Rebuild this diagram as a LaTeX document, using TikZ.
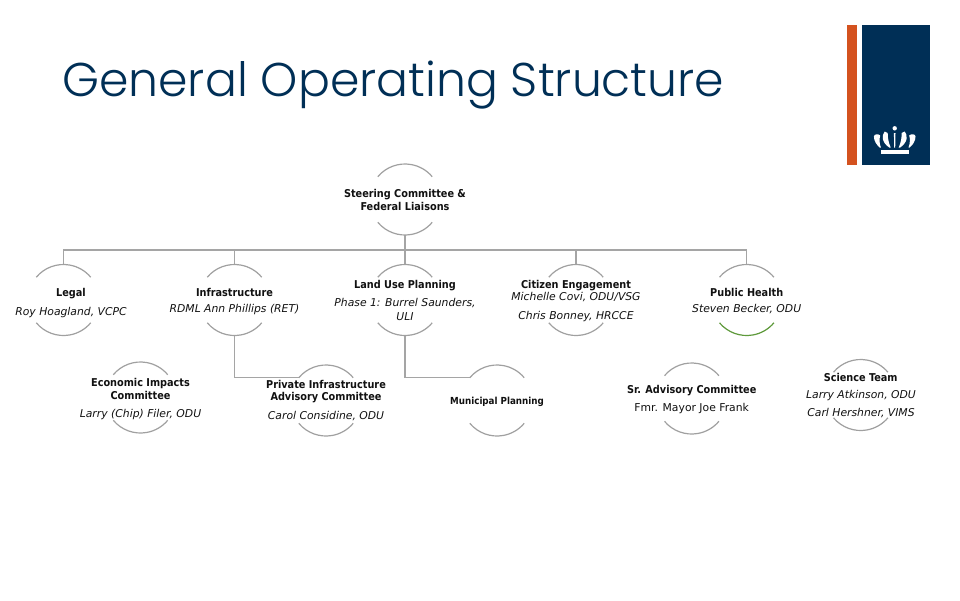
\documentclass[tikz,border=0pt]{standalone}
\usepackage{fontspec}
\setmainfont{DejaVu Sans}
\newfontfamily\hdfont{DejaVu Sans Condensed}
\newfontfamily\titlefont{Poppins}[UprightFont=* Light]
\definecolor{navy}{HTML}{002F56}
\definecolor{rust}{HTML}{D4521F}
\definecolor{arcgray}{HTML}{A0A0A0}
\definecolor{linegray}{HTML}{A5A5A5}
\definecolor{leaf}{HTML}{5F9A3C}
\definecolor{ink}{HTML}{111111}
\tikzset{
  x=1pt,y=-1pt,
  hub/.style={circle,minimum size=71pt,inner sep=0pt,outer sep=0pt},
  arcline/.style={draw=arcgray,line width=1.2pt},
  conn/.style={draw=linegray,line width=1.2pt},
  lab/.style={align=center,font=\fontsize{10.8pt}{12.2pt}\selectfont,text=ink,inner sep=0pt},
}
\newcommand{\hd}[1]{{\hdfont\bfseries #1}}
\newcommand{\nm}[1]{\textit{#1}}
\newcommand{\arcs}[2][arcline]{%
  \draw[#1] (#2.140) arc[start angle=140,end angle=40,radius=35.5pt];
}
\newcommand{\arcsb}[2][arcline]{%
  \draw[#1] (#2.220) arc[start angle=220,end angle=320,radius=35.5pt];
}
\newcommand{\crownside}{%
  \fill[white] (-10,131.5) .. controls (-13,135) and (-13.5,142) .. (-5.5,147.5) -- (-4,147.5) .. controls (-6.5,142) and (-7,137) .. (-7,133) -- cycle;
  \fill[white] (-20.8,136.5) .. controls (-20.8,134) and (-16.5,133.5) .. (-14.5,135.5) .. controls (-15.5,139) and (-15.5,143) .. (-13.8,147.5) -- (-15,147.5) .. controls (-18,145) and (-20.8,141) .. (-20.8,136.5) -- cycle;
}
\begin{document}
\begin{tikzpicture}
\useasboundingbox (0,0) rectangle (960,600);
\fill[white] (0,0) rectangle (960,600);
% title
\node[anchor=base west,inner sep=0pt,text=navy,font=\titlefont\fontsize{47.3pt}{52pt}\selectfont] (title) at (62,96) {General Operating Structure};
% logo
\fill[rust] (847,24.5) rectangle (857,164.5);
\fill[navy] (862,24.5) rectangle (929.5,164.5);
\fill[white] (880.7,149.5) rectangle (909,153.5);
\fill[white] (894.7,128.3) circle (2.2);
\fill[white] (893.9,133) -- (895.5,133) -- (895.2,147.5) -- (894.2,147.5) -- cycle;
\begin{scope}[shift={(894.7,0)}]
\crownside
\end{scope}
\begin{scope}[shift={(894.7,0)},xscale=-1]
\crownside
\end{scope}
% nodes
\node[hub] (steer) at (405,199.5) {};
\node[hub] (legal) at (63.5,300) {};
\node[hub] (infra) at (234.5,300) {};
\node[hub] (land) at (405,300) {};
\node[hub] (citizen) at (576,300) {};
\node[hub] (health) at (746.7,300) {};
\node[hub] (econ) at (140.5,397.5) {};
\node[hub] (priv) at (326,400.5) {};
\node[hub] (muni) at (497,400.5) {};
\node[hub] (adv) at (691.7,398.5) {};
\node[hub] (sci) at (860.7,395) {};
% connectors
\coordinate (bus) at (405,250);
\draw[conn] (steer.south) -- (bus);
\draw[conn] (legal.north) -- (legal.north |- bus) -- (health.north |- bus) -- (health.north);
\draw[conn] (infra.north) -- (infra.north |- bus);
\draw[conn] (land.north) -- (land.north |- bus);
\draw[conn] (citizen.north) -- (citizen.north |- bus);
\draw[conn] (infra.south) |- (priv.140);
\draw[conn] (land.south) |- (muni.140);
% arcs
\foreach \n in {steer,legal,infra,land,citizen,health,econ,priv,muni,adv,sci}{\arcs{\n}}
\foreach \n in {steer,legal,infra,land,citizen,econ,priv,muni,adv,sci}{\arcsb{\n}}
\arcsb[draw=leaf,line width=1.2pt]{health}
% labels
\node[lab] (tsteer) at (405,200) {\hd{Steering Committee \&}\\\hd{Federal Liaisons}};
\node[lab] (tlegal) at (71,294) {\hd{Legal}};
\node[lab] (nlegal) at (71,313) {\nm{Roy Hoagland, VCPC}};
\node[lab] (tinfra) at (234.5,292) {\hd{Infrastructure}};
\node[lab] (ninfra) at (234.5,309.5) {\nm{RDML Ann Phillips (RET)}};
\node[lab] (tland) at (405,286) {\hd{Land Use Planning}};
\node[lab] (nland) at (405,309.5) {\nm{Phase 1: Burrel Saunders,}\\[1pt]\nm{ULI}};
\node[lab] (tcit) at (576,286) {\hd{Citizen Engagement}};
\node[lab] (ncit1) at (576,297) {\nm{Michelle Covi, ODU/VSG}};
\node[lab] (ncit2) at (576,317) {\nm{Chris Bonney, HRCCE}};
\node[lab] (thealth) at (746.7,292) {\hd{Public Health}};
\node[lab] (nhealth) at (746.7,309.5) {\nm{Steven Becker, ODU}};
\node[lab] (tecon) at (140.5,389) {\hd{Economic Impacts}\\\hd{Committee}};
\node[lab] (necon) at (140.5,414.5) {\nm{Larry (Chip) Filer, ODU}};
\node[lab] (tpriv) at (326,391.5) {\hd{Private Infrastructure}\\\hd{Advisory Committee}};
\node[lab] (npriv) at (326,416.5) {\nm{Carol Considine, ODU}};
\node[lab,font=\fontsize{9.7pt}{11pt}\selectfont] (tmuni) at (497,401.5) {\hd{Municipal Planning}};
\node[lab] (tadv) at (691.7,391) {\hd{Sr. Advisory Committee}};
\node[lab] (nadv) at (691.7,409) {Fmr. Mayor Joe Frank};
\node[lab] (tsci) at (860.7,377.5) {\hd{Science Team}};
\node[lab] (nsci1) at (861,396) {\nm{Larry Atkinson, ODU}};
\node[lab] (nsci2) at (861,413.5) {\nm{Carl Hershner, VIMS}};
\end{tikzpicture}
\end{document}
